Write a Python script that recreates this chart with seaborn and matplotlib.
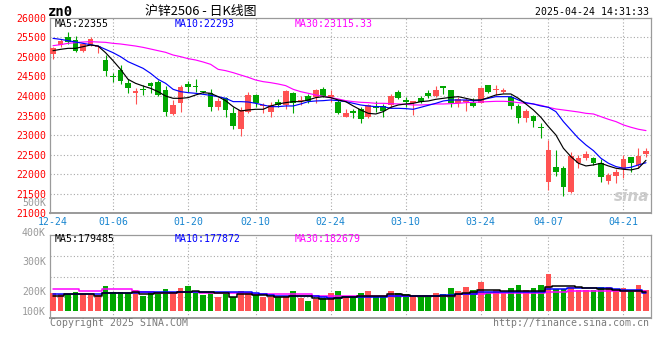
import matplotlib
matplotlib.use("Agg")
import numpy as np
import matplotlib.pyplot as plt
import matplotlib.transforms as mtransforms
import seaborn as sns

# ---------------- data ----------------
dates = ["12-24", "12-25", "12-26", "12-27", "12-30", "12-31",
         "01-02", "01-03", "01-06", "01-07", "01-08", "01-09", "01-10",
         "01-13", "01-14", "01-15", "01-16", "01-17", "01-20", "01-21",
         "01-22", "01-23", "01-24", "01-27",
         "02-05", "02-06", "02-07", "02-10", "02-11", "02-12", "02-13", "02-14",
         "02-17", "02-18", "02-19", "02-20", "02-21", "02-24", "02-25", "02-26",
         "02-27", "02-28",
         "03-03", "03-04", "03-05", "03-06", "03-07", "03-10", "03-11", "03-12",
         "03-13", "03-14", "03-17", "03-18", "03-19", "03-20", "03-21", "03-24",
         "03-25", "03-26", "03-27", "03-28", "03-31",
         "04-01", "04-02", "04-03", "04-07", "04-08", "04-09", "04-10", "04-11",
         "04-14", "04-15", "04-16", "04-17", "04-18", "04-21", "04-22", "04-23",
         "04-24"]

opens = [25065, 25304, 25500, 25432, 25160, 25304, 25250, 24920, 24500, 24665,
         24341, 24080, 24180, 24324, 24367, 24154, 23540, 23813, 24299, 24240,
         24110, 24086, 23730, 23941, 23557, 23157, 23600, 24026, 23740, 23600,
         23856, 23770, 24086, 23870, 24009, 23983, 24180, 23983, 23856, 23472,
         23617, 23668, 23455, 23745, 23745, 23770, 24111, 23880, 23820, 23941,
         24086, 24000, 24230, 24154, 23813, 23850, 23813, 23830, 24282, 24150,
         24111, 23983, 23745, 23447, 23490, 23200, 21811, 22195, 22170, 21538,
         22280, 22407, 22424, 22297, 21836, 21964, 22126, 22433, 22237, 22518]

highs = [25250, 25470, 25645, 25534, 25347, 25500, 25304, 25048, 24580, 24793,
         24426, 24196, 24280, 24367, 24409, 24256, 23898, 24282, 24392, 24435,
         24140, 24171, 23941, 23980, 23711, 23711, 24111, 24040, 23813, 23856,
         23924, 24154, 24111, 24009, 24043, 24171, 24239, 24154, 23898, 23668,
         23660, 23728, 23796, 23873, 23796, 24043, 24154, 23983, 23873, 24000,
         24154, 24256, 24256, 24154, 23983, 23941, 23941, 24239, 24282, 24282,
         24196, 24026, 23796, 23660, 23515, 23302, 22876, 22620, 22211, 22578,
         22492, 22603, 22450, 22390, 22024, 22126, 22492, 22450, 22663, 22663]

lows = [24946, 25260, 25330, 25134, 25134, 25290, 25090, 24520, 24370, 24307,
        24070, 23796, 24025, 24086, 24000, 23498, 23515, 23600, 24111, 24110,
        24065, 23626, 23643, 23455, 23157, 22987, 23575, 23711, 23575, 23472,
        23711, 23660, 23557, 23770, 23830, 23830, 23983, 23856, 23540, 23472,
        23430, 23302, 23430, 23600, 23472, 23700, 23924, 23728, 23515, 23830,
        23941, 23983, 24050, 23711, 23711, 23626, 23711, 23813, 24069, 24026,
        24069, 23668, 23319, 23345, 23217, 22935, 21598, 21956, 21453, 21520,
        22152, 22356, 22237, 21811, 21751, 21768, 21896, 22066, 22152, 22433]

closes = [25220, 25415, 25390, 25160, 25330, 25449, 25280, 24648, 24480, 24392,
          24213, 24100, 24150, 24265, 24026, 23583, 23770, 24239, 24222, 24220,
          24100, 23711, 23880, 23643, 23242, 23643, 24026, 23813, 23750, 23770,
          23770, 24128, 23813, 23890, 23881, 24154, 24000, 24000, 23575, 23575,
          23557, 23413, 23770, 23685, 23617, 24000, 23958, 23850, 23856, 23856,
          24000, 24154, 24210, 23830, 23915, 23870, 23745, 24196, 24111, 24165,
          24154, 23753, 23447, 23617, 23362, 23170, 22620, 22066, 21683, 22467,
          22407, 22518, 22297, 21922, 21981, 22066, 22381, 22280, 22467, 22603]

ma5 = [25159, 25193, 25219, 25219, 25261, 25304, 25278, 25108, 24904, 24682,
       24426, 24324, 24256, 24196, 24111, 24000, 23941, 23941, 23958, 24026,
       24086, 24069, 23983, 23881, 23728, 23617, 23643, 23660, 23660, 23745,
       23796, 23830, 23856, 23856, 23898, 23958, 23983, 23958, 23898, 23856,
       23745, 23643, 23557, 23540, 23600, 23711, 23770, 23796, 23813, 23856,
       23873, 23915, 23941, 23966, 23983, 23941, 23898, 23898, 23958, 24026,
       24052, 24052, 23941, 23796, 23643, 23455, 23217, 23004, 22663, 22450,
       22280, 22211, 22237, 22280, 22211, 22152, 22126, 22109, 22152, 22355]

ma10 = [25474, 25449, 25415, 25381, 25347, 25313, 25278, 25193, 25108, 25006,
        24878, 24793, 24708, 24580, 24426, 24324, 24171, 24111, 24086, 24069,
        24043, 24017, 23983, 23941, 23856, 23856, 23847, 23813, 23770, 23728,
        23728, 23745, 23745, 23796, 23856, 23873, 23881, 23898, 23881, 23856,
        23813, 23770, 23745, 23728, 23728, 23685, 23685, 23677, 23660, 23711,
        23762, 23813, 23873, 23898, 23898, 23898, 23881, 23898, 23941, 23983,
        23983, 23983, 23898, 23830, 23796, 23745, 23711, 23600, 23345, 23131,
        22919, 22748, 22603, 22407, 22280, 22195, 22152, 22177, 22237, 22293]

ma30 = [25287, 25313, 25347, 25364, 25381, 25390, 25381, 25372, 25347, 25330,
        25304, 25278, 25244, 25202, 25159, 25117, 25048, 25006, 24955, 24921,
        24870, 24810, 24682, 24648, 24597, 24537, 24478, 24409, 24367, 24341,
        24307, 24265, 24171, 24111, 24069, 24026, 23992, 23958, 23924, 23881,
        23856, 23839, 23830, 23813, 23813, 23804, 23796, 23787, 23770, 23770,
        23779, 23796, 23796, 23804, 23813, 23830, 23839, 23847, 23856, 23864,
        23864, 23856, 23830, 23813, 23796, 23762, 23711, 23668, 23643, 23617,
        23591, 23557, 23540, 23472, 23404, 23345, 23260, 23200, 23149, 23115.33]

# volume in thousands (K)
volume_k = [178, 173, 173, 181, 173, 170, 170, 201, 181, 181,
            178, 187, 168, 181, 178, 190, 181, 194, 201, 176,
            170, 181, 164, 172, 164, 184, 181, 173, 164, 164,
            164, 168, 184, 159, 151, 156, 161, 176, 184, 168,
            168, 178, 184, 168, 168, 184, 178, 173, 168, 168,
            168, 178, 173, 194, 184, 198, 187, 214, 178, 187,
            176, 194, 203, 187, 194, 203, 240, 189, 189, 198,
            187, 187, 187, 198, 198, 187, 194, 184, 203, 187]

vol_ma5 = [166.7, 166.7, 172.2, 172.2, 172.2, 172.2, 166.7, 175.6, 175.6, 175.6,
           175.6, 178.9, 173.3, 173.3, 175.6, 175.6, 175.6, 178.9, 178.9, 184.4,
           178.9, 178.9, 175.6, 175.6, 164.4, 173.3, 173.3, 170.0, 170.0, 167.8,
           164.4, 164.4, 166.7, 166.7, 166.7, 161.1, 156.7, 156.7, 161.1, 164.4,
           164.4, 166.7, 166.7, 166.7, 166.7, 172.2, 172.2, 168.9, 166.7, 166.7,
           166.7, 166.7, 166.7, 166.7, 173.3, 175.6, 178.9, 186.7, 186.7, 186.7,
           184.4, 184.4, 184.4, 184.4, 184.4, 184.4, 197.8, 200.0, 200.0, 200.0,
           197.8, 192.2, 192.2, 188.9, 188.9, 186.7, 184.4, 184.4, 184.4, 179.485]

vol_ma10 = [172.2, 172.2, 172.2, 172.2, 172.2, 172.2, 172.2, 175.6, 175.6, 175.6,
            175.6, 175.6, 178.9, 178.9, 178.9, 178.9, 178.9, 178.9, 181.1, 181.1,
            180.0, 178.9, 178.9, 178.9, 178.9, 178.9, 178.9, 175.6, 173.3, 171.1,
            167.8, 167.8, 167.8, 167.8, 167.8, 167.8, 164.4, 158.9, 161.1, 163.3,
            163.3, 163.3, 163.3, 163.3, 163.3, 167.8, 167.8, 167.8, 167.8, 167.8,
            167.8, 167.8, 170.0, 170.0, 172.2, 172.2, 172.2, 178.9, 178.9, 178.9,
            178.9, 178.9, 181.1, 181.1, 181.1, 181.1, 188.9, 188.9, 188.9, 192.2,
            192.2, 192.2, 192.2, 192.2, 192.2, 190.0, 186.7, 186.7, 186.7, 177.872]

vol_ma30 = [188.9, 188.9, 188.9, 188.9, 184.4, 184.4, 184.4, 188.9, 188.9, 188.9,
            188.9, 184.4, 178.9, 178.9, 175.6, 175.6, 175.6, 178.9, 178.9, 178.9,
            175.6, 175.6, 175.6, 175.6, 175.6, 175.6, 175.6, 172.2, 172.2, 172.2,
            172.2, 172.2, 172.2, 172.2, 172.2, 167.8, 167.8, 167.8, 167.8, 167.8,
            167.8, 167.8, 167.8, 167.8, 167.8, 167.8, 167.8, 167.8, 167.8, 167.8,
            167.8, 167.8, 167.8, 167.8, 172.2, 172.2, 172.2, 172.2, 175.6, 175.6,
            175.6, 175.6, 175.6, 175.6, 175.6, 175.6, 178.9, 178.9, 178.9, 183.3,
            183.3, 183.3, 183.3, 183.3, 183.3, 183.3, 183.3, 183.3, 183.3, 182.679]

date_ticks = ["12-24", "01-06", "01-20", "02-10", "02-24", "03-10", "03-24", "04-07", "04-21"]
price_ticks = [21000, 21500, 22000, 22500, 23000, 23500, 24000, 24500, 25000, 25500, 26000]
vol_tick_values = [500, 400, 300, 200, 100]
vol_tick_labels = ["500K", "400K", "300K", "200K", "100K"]

symbol = "zn0"
title = "沪锌2506 - 日K线图"
timestamp = "2025-04-24 14:31:33"
copyright_text = "Copyright 2025 SINA.COM"
url_text = "http://finance.sina.com.cn"

# ---------------- style ----------------
sns.set_theme(style="white")
plt.rcParams["font.family"] = ["DejaVu Sans Mono"]
plt.rcParams["axes.unicode_minus"] = False

RED, GREEN = "#ff5252", "#00a600"
GRID = "#a8a8a8"
SPINE = "#9a9a9a"
FS = 7.1

W, H = 660, 360
fig = plt.figure(figsize=(W / 100, H / 100), dpi=100)
fig.patch.set_facecolor("white")


def fx(px):
    return px / W


def fy(py):
    return 1 - py / H


L, R = 50, 650.7
P_TOP, P_BOT = 17.8, 213.3
V_TOP, V_BOT = 235, 318.3
XLIM = (-0.4, 79.63)
VLIM = (92.3, 370)
VBASE = 116.7

ax_p = fig.add_axes([fx(L), fy(P_BOT), (R - L) / W, (P_BOT - P_TOP) / H])
ax_v = fig.add_axes([fx(L), fy(V_BOT), (R - L) / W, (V_BOT - V_TOP) / H])

x = np.arange(len(dates))
o, h, l, c = (np.array(a, dtype=float) for a in (opens, highs, lows, closes))
cols = np.where(c >= o, RED, GREEN)
tick_idx = [dates.index(d) for d in date_ticks]

# ---------------- price panel ----------------
ax_p.vlines(x, l, h, colors=cols, linewidth=0.8, zorder=3)
ax_p.bar(x, np.maximum(np.abs(c - o), 40), bottom=np.minimum(o, c), width=0.76,
         color=cols, linewidth=0, zorder=4)
for series, col in ((ma30, "#ff00ff"), (ma10, "#0000ff"), (ma5, "#000000")):
    sns.lineplot(x=x, y=series, ax=ax_p, color=col, linewidth=0.85, zorder=5)

ax_p.set_xlim(*XLIM)
ax_p.set_ylim(price_ticks[0], price_ticks[-1])
ax_p.set_yticks(price_ticks)
ax_p.set_yticklabels([str(t) for t in price_ticks])
ax_p.tick_params(axis="y", length=0, pad=3, labelsize=FS, labelcolor="#ff0000")
ax_p.set_xticks(tick_idx)
ax_p.set_xticklabels(date_ticks)
ax_p.tick_params(axis="x", length=0, pad=2.5, labelsize=FS, labelcolor="#1785d0")
ax_p.grid(False)
for t in price_ticks[1:-1]:
    ax_p.axhline(t, color=GRID, linestyle=(0, (1, 2)), linewidth=0.8, zorder=1)
for ti in tick_idx:
    if ti > 1:
        ax_p.axvline(ti, color=GRID, linestyle=(0, (1, 2)), linewidth=0.8, zorder=1)
for s in ax_p.spines.values():
    s.set_color(SPINE)
    s.set_linewidth(0.9)
ax_p.spines["bottom"].set_linewidth(1.4)
ax_p.set_xlabel("")
ax_p.set_ylabel("")

# watermark
ax_p.text(0.997, 0.085, "sina", transform=ax_p.transAxes, ha="right", va="center",
          fontsize=11, fontweight="bold", fontstyle="italic", family="DejaVu Sans",
          color="#cccccc", zorder=2)

# ---------------- volume panel ----------------
ax_v.bar(x, np.array(volume_k) - VBASE, bottom=VBASE, width=0.76, color=cols,
         linewidth=0, zorder=3)
for series, col in ((vol_ma30, "#ff00ff"), (vol_ma10, "#0000ff"), (vol_ma5, "#000000")):
    sns.lineplot(x=x, y=series, ax=ax_v, color=col, linewidth=1.1, zorder=5,
                 drawstyle="steps-mid")
ax_v.set_xlim(*XLIM)
ax_v.set_ylim(*VLIM)
ax_v.set_xticks([])
ax_v.set_yticks([])
ax_v.grid(False)
for f in (0.25, 0.5, 0.75):
    ax_v.axhline(VLIM[0] + f * (VLIM[1] - VLIM[0]), color=GRID, linestyle=(0, (1, 2)),
                 linewidth=0.8, zorder=1)
for ti in tick_idx:
    if ti > 1:
        ax_v.axvline(ti, color=GRID, linestyle=(0, (1, 2)), linewidth=0.8, zorder=1)
for s in ax_v.spines.values():
    s.set_color(SPINE)
    s.set_linewidth(0.9)
ax_v.spines["bottom"].set_linewidth(1.4)
ax_v.set_xlabel("")
ax_v.set_ylabel("")

trans = mtransforms.blended_transform_factory(ax_v.transAxes, ax_v.transData)
trans = trans + mtransforms.ScaledTranslation(0, -1.5 / 100, fig.dpi_scale_trans)
for v, lab in zip(vol_tick_values, vol_tick_labels):
    if v >= 200:
        ax_v.text(-4 / (R - L), v, lab, transform=trans, ha="right", va="top",
                  fontsize=FS, color="#999999", clip_on=False)
    else:
        ax_v.text(-4 / (R - L), VBASE, lab, transform=trans, ha="right", va="center",
                  fontsize=FS, color="#999999", clip_on=False)

# ---------------- header / legends ----------------
fig.text(fx(48), fy(12), symbol, fontsize=10, fontweight="bold", ha="left", va="center",
         color="black")
fig.text(fx(201), fy(11), title, fontsize=9.3, ha="center", va="center", color="black",
         family=["Noto Sans CJK SC", "DejaVu Sans"])
fig.text(fx(649), fy(11.7), timestamp, fontsize=FS, ha="right", va="center", color="black")

fig.text(fx(55), fy(24), f"MA5:{ma5[-1]:.0f}", fontsize=FS, ha="left", va="center", color="black")
fig.text(fx(175), fy(24), f"MA10:{ma10[-1]:.0f}", fontsize=FS, ha="left", va="center", color="#0000ff")
fig.text(fx(295), fy(24), f"MA30:{ma30[-1]:.2f}", fontsize=FS, ha="left", va="center", color="#ff00ff")

fig.text(fx(55), fy(238.5), f"MA5:{vol_ma5[-1] * 1000:.0f}", fontsize=FS, ha="left", va="center", color="black")
fig.text(fx(175), fy(238.5), f"MA10:{vol_ma10[-1] * 1000:.0f}", fontsize=FS, ha="left", va="center", color="#0000ff")
fig.text(fx(295), fy(238.5), f"MA30:{vol_ma30[-1] * 1000:.0f}", fontsize=FS, ha="left", va="center", color="#ff00ff")

fig.text(fx(50), fy(323.5), copyright_text, fontsize=FS, ha="left", va="center", color="#7a7a7a")
fig.text(fx(649), fy(323.5), url_text, fontsize=FS, ha="right", va="center", color="#7a7a7a")

fig.savefig("out.png", dpi=100, facecolor="white")
